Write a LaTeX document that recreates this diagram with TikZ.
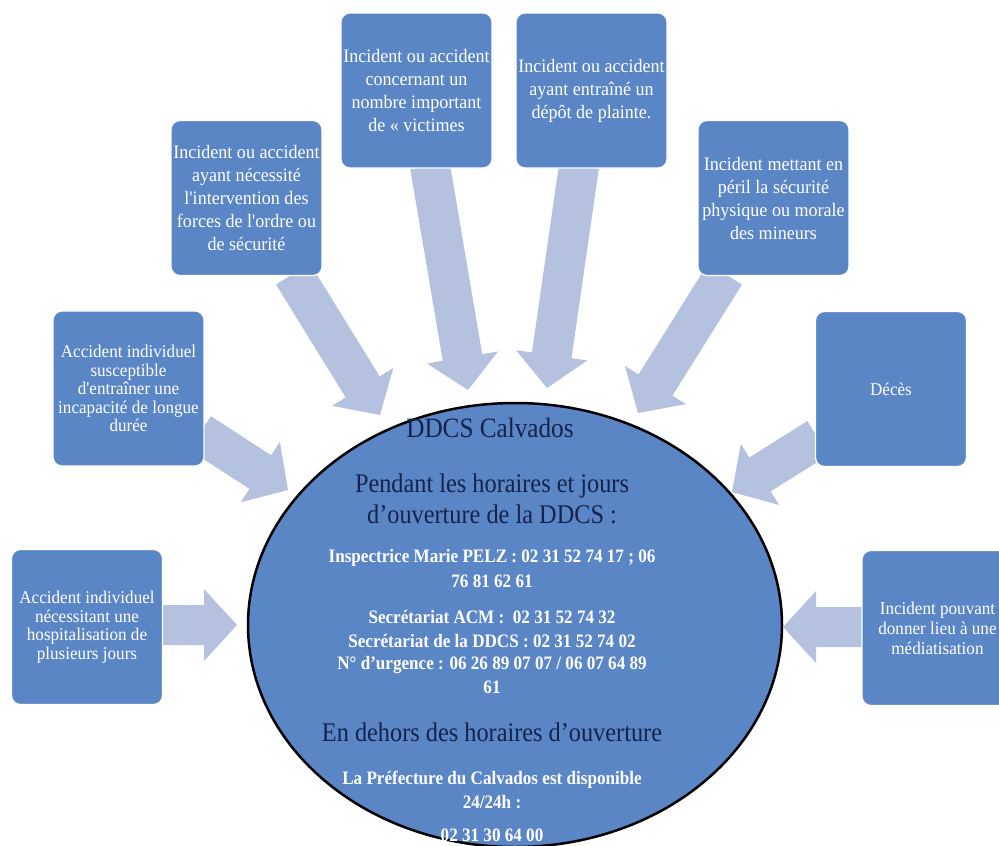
\documentclass[tikz,border=0pt]{standalone}
\usepackage{fontspec}
\setmainfont{Liberation Serif}[FakeStretch=0.9]
\newfontfamily\boxfont{Liberation Serif}[FakeStretch=0.95]
\usetikzlibrary{calc,shapes.geometric}
\definecolor{boxblue}{HTML}{5B86C6}
\definecolor{ellblue}{HTML}{5A86C6}
\definecolor{arrowc}{HTML}{B5C2DF}
\definecolor{navy}{HTML}{14224C}
\newcommand\blockarrow[2]{%
  \coordinate (ba-b) at ($(#2)!33pt!(#1)$);
  \fill[arrowc] ($(#1)!20pt!90:(#2)$) -- ($(ba-b)!20pt!90:(#2)$) -- ($(ba-b)!36pt!90:(#2)$) -- (#2)
    -- ($(ba-b)!36pt!-90:(#2)$) -- ($(ba-b)!20pt!-90:(#2)$) -- ($(#1)!20pt!-90:(#2)$) -- cycle;}
\begin{document}
\begin{tikzpicture}[x=1pt,y=-1pt,
  box/.style={draw=white, line width=1.2pt, fill=boxblue, rounded corners=9pt,
    minimum width=151pt, minimum height=155pt, text=white, align=center, inner sep=2pt},
  small/.style={font=\boxfont\fontsize{18}{18.5}\selectfont},
  big/.style={font=\boxfont\fontsize{19}{23}\selectfont},
  mid/.style={font=\boxfont\fontsize{18}{20}\selectfont},
  head/.style={anchor=base, text=navy, font=\fontsize{27}{30}\selectfont},
  info/.style={anchor=base, text=white, font=\bfseries\fontsize{19}{23}\selectfont}]
\useasboundingbox (0,0) rectangle (999,846);
\fill[white] (0,0) rectangle (999,846);
% arrow end points
\coordinate (t1) at (161,625); \coordinate (p1) at (237,625);
\coordinate (t2) at (200,433); \coordinate (p2) at (288,490);
\coordinate (t3) at (293,274); \coordinate (p3) at (380,415);
\coordinate (t4) at (430,166); \coordinate (p4) at (468,390);
\coordinate (t5) at (579,166); \coordinate (p5) at (547,388);
\coordinate (t6) at (725,274); \coordinate (p6) at (638,413);
\coordinate (t7) at (818,438); \coordinate (p7) at (732,492);
\coordinate (t8) at (864,627); \coordinate (p8) at (783,627);
\blockarrow{t1}{p1}
\blockarrow{t2}{p2}
\blockarrow{t3}{p3}
\blockarrow{t4}{p4}
\blockarrow{t5}{p5}
\blockarrow{t6}{p6}
\blockarrow{t7}{p7}
\blockarrow{t8}{p8}
% boxes
\node[box, small] (b1) at (87,627) {Accident individuel\\nécessitant une\\hospitalisation de\\plusieurs jours};
\node[box, small] (b2) at (128.5,388.5) {Accident individuel\\susceptible\\d'entraîner une\\incapacité de longue\\durée};
\node[box, big] (b3) at (246.5,198) {Incident ou accident\\ayant nécessité\\l'intervention des\\forces de l'ordre ou\\de sécurité};
\node[box, big] (b4) at (416.5,90.5) {Incident ou accident\\concernant un\\nombre important\\de « victimes};
\node[box, big] (b5) at (591.5,90.5) {Incident ou accident\\ayant entraîné un\\dépôt de plainte.};
\node[box, big] (b6) at (773.5,198) {Incident mettant en\\péril la sécurité\\physique ou morale\\des mineurs};
\node[box, mid] (b7) at (891,389) {Décès};
\node[box, mid] (b8) at (937.5,628) {Incident pouvant\\donner lieu à une\\médiatisation};
% central ellipse
\node[ellipse, draw=black, line width=2.5pt, fill=ellblue, minimum width=534pt, minimum height=444pt] (ell) at (515,625) {};
\node[head, font=\fontsize{28}{30}\selectfont] (e1) at (490,437) {DDCS Calvados};
\node[head] (e2) at (492,492) {Pendant les horaires et jours};
\node[head] (e3) at (492,523) {d'ouverture de la DDCS :};
\node[info] (e4) at (492,562) {Inspectrice Marie PELZ : 02 31 52 74 17 ; 06};
\node[info] (e5) at (492,587) {76 81 62 61};
\node[info] (e6) at (492,623) {Secrétariat ACM :\ \ 02 31 52 74 32};
\node[info] (e7) at (492,647) {Secrétariat de la DDCS : 02 31 52 74 02};
\node[info] (e8) at (492,669) {N° d'urgence : 06 26 89 07 07 / 06 07 64 89};
\node[info] (e9) at (492,693) {61};
\node[head] (e10) at (492,741) {En dehors des horaires d'ouverture};
\node[info] (e11) at (492,784) {La Préfecture du Calvados est disponible};
\node[info] (e12) at (492,808) {24/24h :};
\node[info] (e13) at (492,841) {02 31 30 64 00};
\end{tikzpicture}
\end{document}
